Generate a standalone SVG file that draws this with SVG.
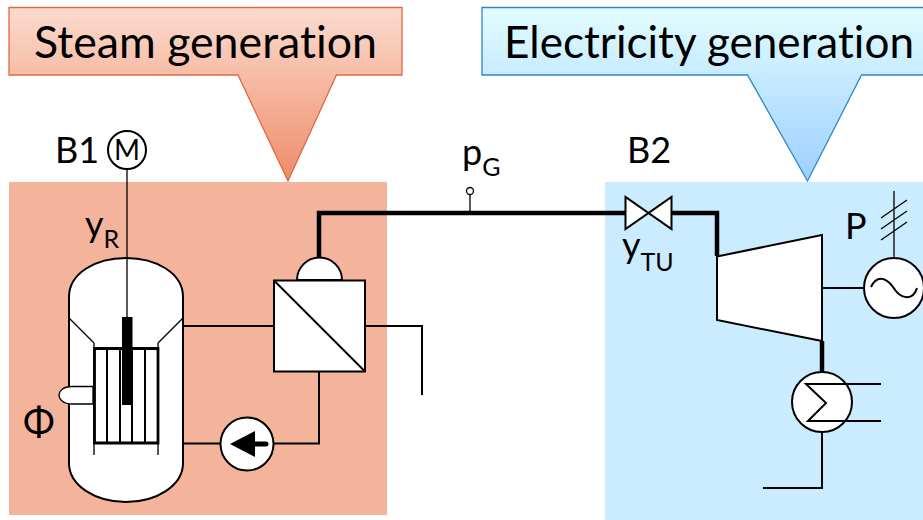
<svg xmlns="http://www.w3.org/2000/svg" width="923" height="520" viewBox="0 0 923 520">
<style>
text{font-family:"Lato","Carlito","Open Sans",sans-serif;fill:#000;font-variant-ligatures:none}
.t{font-size:36px}.s{font-size:25px}.h{font-size:44px}
.l{fill:none;stroke:#000;stroke-width:2}
.c{fill:none;stroke:#000;stroke-width:2.800}
.b{fill:none;stroke:#000;stroke-width:4.500}
.w{fill:#fff;stroke:#000;stroke-width:2}
.th{fill:none;stroke:#000;stroke-width:1.300}
</style>
<defs>
<linearGradient id="go" x1="0" y1="0" x2="0" y2="1"><stop offset="0" stop-color="#fbdccf"/><stop offset="1" stop-color="#ee8b68"/></linearGradient>
<linearGradient id="gb" x1="0" y1="0" x2="0" y2="1"><stop offset="0" stop-color="#e2fdff"/><stop offset="1" stop-color="#9dcfff"/></linearGradient>
</defs>
<rect id="steam-area" x="9" y="182" width="378" height="333" fill="#f4b39b"/>
<rect id="electricity-area" x="605" y="182" width="318" height="338" fill="#cbebff"/>
<g id="steam-callout">
<path d="M9 7.500H402V75H336.500L288 181L238 75H9Z" fill="url(#go)" stroke="#dd6a45" stroke-width="1.300"/>
<text class="h" x="34" y="57.500" textLength="343" lengthAdjust="spacingAndGlyphs">Steam generation</text>
</g>
<g id="electricity-callout">
<path d="M482 7.500H930V75H861.500L807.500 181L747.500 75H482Z" fill="url(#gb)" stroke="#2e86c8" stroke-width="1.300"/>
<text class="h" x="504" y="57.500" textLength="410" lengthAdjust="spacingAndGlyphs">Electricity generation</text>
</g>
<g id="connectors">
<path class="th" d="M127 169V317"/>
<path class="b" d="M319 258V213H625M672 213H717V256"/>
<path class="l" d="M183 326H274M365 326H422V395M319 371V443.500H272M221 443.500H183"/>
<path class="th" d="M470 194V211"/>
<path class="l" d="M822 288H864"/>
<path class="b" d="M822 341V372"/>
<path class="l" d="M822 432V488H763"/>
<path class="th" d="M894 258V191M881 218L907 200M881 229L907 211M881 240L907 222"/>
</g>
<g id="motor-b1">
<circle class="w" cx="127" cy="150" r="19" stroke-width="1.300"/>
<text x="127" y="160" font-size="28" text-anchor="middle">M</text>
<text class="t" x="55" y="163">B1</text>
<text class="t" x="85" y="237">y<tspan class="s" dy="11">R</tspan></text>
</g>
<g id="reactor">
<path class="w" d="M69 297C69 273 96 258 126 258C156 258 183 273 183 297V463C183 486 156 502 126 502C96 502 69 486 69 463Z"/>
<path class="th" d="M69 318L94 343M183 318L158 343"/>
<path class="th" d="M94 343V455M158 343V455"/>
<path class="c" d="M94.500 348.500H158V443H94.500Z"/>
<path class="l" d="M107 348V443M120 348V443M132 348V443M145 348V443" stroke-width="1.500"/>
<rect x="122" y="317" width="10.500" height="88" fill="#000"/>
<path class="th" d="M127 258V317"/>
<path d="M93 386.500H72C62 386.500 59 392 59 395C59 399 63 404 72 404H93Z" fill="#fff" stroke="#000" stroke-width="1.300"/>
<text x="23" y="436" font-size="38">Φ</text>
</g>
<g id="heat-exchanger">
<path class="w" d="M297 280A22.500 22.500 0 0 1 342 280Z"/>
<rect class="w" x="274" y="280.500" width="91" height="91"/>
<path class="l" d="M274 280.500L365 371.500"/>
</g>
<g id="pump">
<circle class="w" cx="247" cy="444" r="26.500"/>
<path d="M230 444L255 431V457Z" fill="#000"/>
<path d="M252 444H266" stroke="#000" stroke-width="5" stroke-linecap="round"/>
</g>
<g id="pressure-sensor">
<circle cx="470" cy="191" r="3.500" fill="#fff" stroke="#000" stroke-width="1.300"/>
<text class="t" x="462" y="165">p<tspan class="s" dy="11">G</tspan></text>
</g>
<g id="valve-b2">
<path class="w" d="M625.500 197V229L671.500 197V229Z"/>
<text class="t" x="627" y="163">B2</text>
<text class="t" x="622" y="258">y<tspan class="s" dy="13">TU</tspan></text>
</g>
<g id="turbine">
<path class="w" d="M717 256.500L822 235V341L717 320Z"/>
</g>
<g id="generator">
<circle class="w" cx="894" cy="288" r="30"/>
<path class="l" d="M871 287C876 276 885 276 893 287C901 300 913 301 917 288"/>
<text class="t" x="845" y="239">P</text>
</g>
<g id="condenser">
<circle class="w" cx="822" cy="402" r="30"/>
<path class="l" d="M881 384H806L826 403L808 421H881"/>
</g>
</svg>
